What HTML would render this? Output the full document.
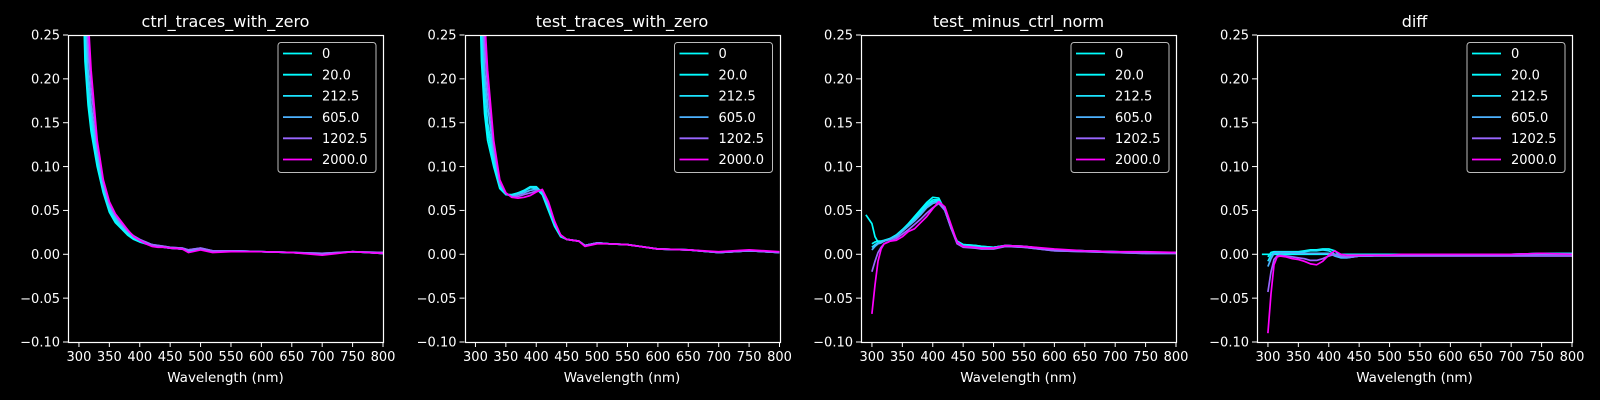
<!DOCTYPE html>
<html><head><meta charset="utf-8">
<style>
html,body{margin:0;padding:0;background:#000;}
svg{display:block;font-family:"DejaVu Sans","Liberation Sans",sans-serif;}
</style></head>
<body>
<svg id="chart" width="1600" height="400" xmlns="http://www.w3.org/2000/svg"></svg>
<script>
const panelTitles = ["ctrl_traces_with_zero","test_traces_with_zero","test_minus_ctrl_norm","diff"];
const seriesLabels = ["0","20.0","212.5","605.0","1202.5","2000.0"];
const seriesColors = ["#00ffff","#03fcff","#1be4ff","#4db2ff","#9966ff","#ff00ff"];
const xTicks = [300,350,400,450,500,550,600,650,700,750,800];
const yTicks = [-0.10,-0.05,0.00,0.05,0.10,0.15,0.20,0.25];
const wl = [290,300,305,310,315,320,330,340,350,360,370,380,390,400,410,420,430,440,450,470,480,500,520,550,600,650,700,750,800];

const ctrl0 = [null,0.60,0.35,0.22,0.17,0.14,0.10,0.07,0.048,0.036,0.029,0.022,0.017,0.014,0.012,0.010,0.009,0.008,0.007,0.006,0.004,0.006,0.003,0.004,0.003,0.002,0.000,0.003,0.001];
const ctrl1 = [null,0.65,0.38,0.24,0.18,0.15,0.105,0.072,0.050,0.038,0.030,0.023,0.018,0.015,0.012,0.010,0.009,0.008,0.007,0.006,0.004,0.006,0.003,0.004,0.003,0.002,0.000,0.003,0.001];
const ctrl2 = [null,0.72,0.42,0.27,0.19,0.16,0.11,0.075,0.052,0.040,0.031,0.024,0.019,0.015,0.013,0.011,0.009,0.008,0.007,0.006,0.004,0.006,0.003,0.004,0.003,0.002,0.000,0.003,0.001];
const ctrl3 = [null,0.80,0.48,0.30,0.21,0.17,0.115,0.078,0.055,0.042,0.033,0.026,0.020,0.016,0.014,0.011,0.010,0.009,0.008,0.007,0.005,0.007,0.004,0.004,0.003,0.002,0.001,0.003,0.002];
const ctrl4 = [null,0.90,0.54,0.34,0.24,0.19,0.125,0.083,0.058,0.045,0.035,0.027,0.021,0.017,0.014,0.011,0.010,0.009,0.008,0.007,0.005,0.007,0.004,0.004,0.003,0.002,0.001,0.003,0.002];
const ctrl5 = [null,1.00,0.60,0.38,0.27,0.21,0.13,0.085,0.060,0.046,0.037,0.028,0.020,0.016,0.012,0.009,0.008,0.008,0.007,0.006,0.002,0.005,0.002,0.003,0.003,0.002,-0.001,0.003,0.001];

const test0 = [null,0.60,0.35,0.22,0.16,0.13,0.10,0.075,0.068,0.068,0.070,0.072,0.076,0.075,0.068,0.050,0.032,0.020,0.017,0.015,0.010,0.013,0.012,0.011,0.006,0.005,0.002,0.004,0.002];
const test1 = [null,0.66,0.38,0.24,0.17,0.14,0.105,0.077,0.068,0.067,0.070,0.073,0.077,0.077,0.070,0.052,0.034,0.021,0.017,0.015,0.010,0.013,0.012,0.011,0.006,0.005,0.002,0.004,0.002];
const test2 = [null,0.72,0.42,0.27,0.19,0.15,0.11,0.079,0.069,0.067,0.069,0.072,0.076,0.076,0.071,0.054,0.035,0.021,0.017,0.015,0.010,0.013,0.012,0.011,0.006,0.005,0.002,0.004,0.002];
const test3 = [null,0.80,0.48,0.30,0.21,0.17,0.115,0.080,0.069,0.066,0.068,0.070,0.073,0.074,0.072,0.056,0.036,0.022,0.017,0.015,0.010,0.013,0.012,0.011,0.006,0.005,0.002,0.004,0.002];
const test4 = [null,0.90,0.54,0.34,0.24,0.19,0.125,0.082,0.070,0.065,0.066,0.068,0.070,0.072,0.073,0.058,0.037,0.022,0.017,0.015,0.010,0.013,0.012,0.011,0.006,0.005,0.002,0.004,0.002];
const test5 = [null,1.00,0.60,0.38,0.27,0.21,0.13,0.085,0.070,0.065,0.064,0.065,0.067,0.071,0.074,0.060,0.038,0.022,0.017,0.015,0.009,0.012,0.012,0.011,0.006,0.005,0.003,0.005,0.003];

const norm0 = [0.045,0.035,0.020,0.014,0.014,0.015,0.018,0.022,0.028,0.035,0.043,0.051,0.059,0.065,0.064,0.050,0.030,0.015,0.011,0.010,0.009,0.008,0.010,0.009,0.005,0.004,0.003,0.002,0.002];
const norm1 = [null,0.012,0.014,0.015,0.015,0.016,0.018,0.022,0.028,0.034,0.041,0.049,0.057,0.062,0.062,0.050,0.030,0.015,0.011,0.010,0.009,0.008,0.010,0.009,0.005,0.004,0.003,0.002,0.002];
const norm2 = [null,0.008,0.011,0.013,0.014,0.015,0.018,0.021,0.027,0.033,0.040,0.047,0.055,0.060,0.061,0.050,0.031,0.014,0.010,0.009,0.008,0.008,0.010,0.009,0.005,0.004,0.003,0.002,0.002];
const norm3 = [null,0.005,0.009,0.012,0.013,0.015,0.017,0.020,0.026,0.032,0.038,0.045,0.053,0.058,0.060,0.050,0.030,0.013,0.009,0.008,0.007,0.007,0.009,0.008,0.004,0.003,0.002,0.001,0.001];
const norm4 = [null,-0.020,-0.008,0.002,0.008,0.012,0.015,0.018,0.023,0.028,0.034,0.040,0.047,0.053,0.058,0.050,0.030,0.012,0.008,0.007,0.006,0.006,0.009,0.008,0.004,0.003,0.002,0.001,0.001];
const norm5 = [null,-0.068,-0.035,-0.008,0.006,0.012,0.015,0.016,0.020,0.026,0.029,0.036,0.043,0.052,0.060,0.054,0.034,0.014,0.009,0.008,0.007,0.007,0.010,0.009,0.006,0.004,0.003,0.003,0.002];

const diff0 = [0.000,0.000,0.000,0.000,0.000,0.000,0.000,0.000,0.000,0.000,0.000,0.000,0.000,0.000,0.000,0.000,0.000,0.000,0.000,0.000,0.000,0.000,0.000,0.000,0.000,0.000,0.000,0.000,0.000];
const diff1 = [null,-0.003,0.002,0.003,0.003,0.003,0.003,0.003,0.003,0.004,0.005,0.005,0.006,0.006,0.004,-0.002,-0.003,-0.002,-0.001,-0.001,-0.001,0.000,0.000,0.000,0.000,0.000,0.000,0.001,0.001];
const diff2 = [null,-0.008,-0.001,0.002,0.002,0.002,0.002,0.002,0.002,0.003,0.004,0.004,0.005,0.004,0.000,-0.004,-0.004,-0.003,-0.002,-0.002,-0.001,0.000,0.000,0.000,0.000,0.000,0.000,0.001,0.001];
const diff3 = [null,-0.014,-0.005,0.001,0.002,0.002,0.002,0.002,0.001,0.001,0.001,0.001,0.001,0.001,-0.002,-0.004,-0.004,-0.003,-0.002,-0.002,-0.001,-0.001,-0.001,-0.001,-0.001,-0.001,-0.001,0.000,0.000];
const diff4 = [null,-0.043,-0.020,-0.006,-0.002,-0.001,-0.002,-0.003,-0.004,-0.005,-0.007,-0.007,-0.005,-0.002,0.000,-0.002,-0.003,-0.003,-0.002,-0.002,-0.002,-0.002,-0.002,-0.002,-0.002,-0.002,-0.002,-0.002,-0.002];
const diff5 = [null,-0.090,-0.045,-0.012,-0.003,-0.002,-0.003,-0.005,-0.006,-0.008,-0.011,-0.012,-0.008,-0.001,0.004,0.000,-0.001,-0.001,-0.001,-0.001,-0.001,-0.001,0.000,0.000,0.000,0.000,0.000,0.001,0.000];

const panelData = [
  [ctrl0,ctrl1,ctrl2,ctrl3,ctrl4,ctrl5],
  [test0,test1,test2,test3,test4,test5],
  [norm0,norm1,norm2,norm3,norm4,norm5],
  [diff0,diff1,diff2,diff3,diff4,diff5]
];

const NS = "http://www.w3.org/2000/svg";
const svg = document.getElementById("chart");
const panelLefts = [68,464.5,861,1257];
const PW = 315, PT = 35, PB = 342;
const xMin = 282, xMax = 800, yMin = -0.10, yMax = 0.25;
function mk(tag, attrs, parent){
  const e = document.createElementNS(NS, tag);
  for (const k in attrs) e.setAttribute(k, attrs[k]);
  (parent||svg).appendChild(e);
  return e;
}
const defs = mk("defs", {});
panelTitles.forEach((title, p) => {
  const L = panelLefts[p];
  const xs = v => L + (v - xMin) / (xMax - xMin) * PW;
  const ys = v => PB - (v - yMin) / (yMax - yMin) * (PB - PT);
  const g = mk("g", {});
  
  
  const cp = mk("clipPath", {id: "clip" + p}, defs);
  mk("rect", {x: L, y: PT, width: PW, height: PB - PT}, cp);
  const t = mk("text", {x: L + PW/2, y: 27, fill: "#fff", "font-size": 16, "text-anchor": "middle"}, g);
  t.textContent = title;
  
  
  const sg = mk("g", {"clip-path": "url(#clip" + p + ")"}, g);
  panelData[p].forEach((arr, s) => {
    let d = "";
    arr.forEach((v, i) => {
      if (v === null) return;
      d += (d ? "L" : "M") + xs(wl[i]).toFixed(1) + "," + ys(v).toFixed(1);
    });
    const path = mk("path", {d: d, fill: "none", stroke: seriesColors[s], "stroke-width": 1.7, "stroke-linejoin": "round"}, sg);
    
    
  });
  const fl = Math.round(L) + 0.5;
  const frame = mk("rect", {x: fl, y: PT + 0.5, width: PW, height: PB - PT, fill: "none", stroke: "#fff", "stroke-width": 1.2}, g);
  
  
  xTicks.forEach(v => {
    const x = xs(v);
    mk("line", {x1: x, x2: x, y1: PB, y2: PB + 5, stroke: "#fff", "stroke-width": 1}, g);
    const tl = mk("text", {x: x, y: PB + 19, fill: "#fff", "font-size": 13, "text-anchor": "middle"}, g);
    tl.textContent = v;
    
    
  });
  yTicks.forEach(v => {
    const y = ys(v);
    mk("line", {x1: L - 5, x2: L, y1: y, y2: y, stroke: "#fff", "stroke-width": 1}, g);
    const tl = mk("text", {x: L - 8, y: y + 4.7, fill: "#fff", "font-size": 13, "text-anchor": "end"}, g);
    tl.textContent = (v < 0 ? "\u2212" : "") + Math.abs(v).toFixed(2);
    
    
  });
  const xl = mk("text", {x: L + PW/2, y: 382, fill: "#fff", "font-size": 13.5, "text-anchor": "middle"}, g);
  xl.textContent = "Wavelength (nm)";
  
  
  const lg = mk("g", {}, g);
  
  
  mk("rect", {x: L + 210, y: 42.5, width: 98, height: 130, rx: 3, fill: "#000", stroke: "#bbb", "stroke-width": 1}, lg);
  seriesLabels.forEach((lab, s) => {
    const y = 53.5 + s * 21.2;
    const e = mk("g", {}, lg);
    
    
    mk("line", {x1: L + 215, x2: L + 244, y1: y, y2: y, stroke: seriesColors[s], "stroke-width": 1.8}, e);
    const tx = mk("text", {x: L + 254, y: y + 4.7, fill: "#fff", "font-size": 13}, e);
    tx.textContent = lab;
  });
});
</script>
</body></html>
